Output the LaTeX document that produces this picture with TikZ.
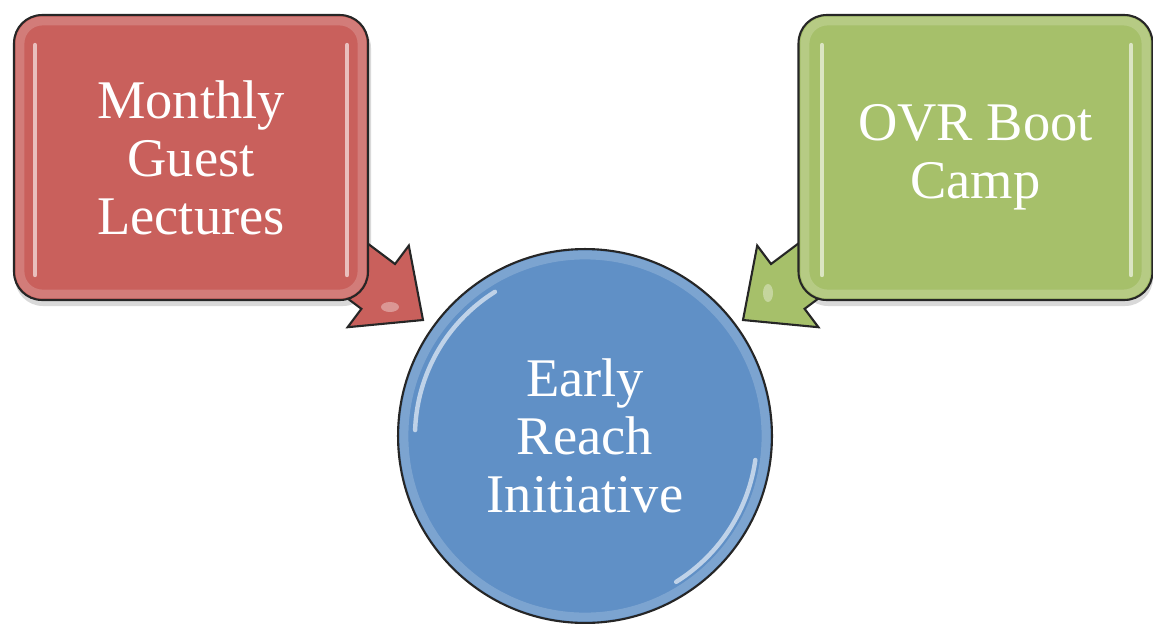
\documentclass[tikz,border=0pt]{standalone}
\usepackage{fontspec}
\setmainfont{Liberation Serif}
\definecolor{redbox}{RGB}{201,96,92}
\definecolor{greenbox}{RGB}{166,192,106}
\definecolor{bluecirc}{RGB}{96,144,198}
\begin{document}
\begin{tikzpicture}[x=0.02cm,y=-0.02cm,
  outline/.style={draw=black!85,line width=1.2pt},
  boxnode/.style={outline,rounded corners=0.56cm,minimum width=7.08cm,minimum height=5.7cm,
    text=white,align=center,font=\fontsize{31}{33}\selectfont},
  circnode/.style={outline,circle,minimum size=7.48cm,inner sep=0pt,
    text=white,align=center,font=\fontsize{31}{33}\selectfont},
  arrowshape/.style={outline,line join=miter},
  gloss/.style={white,opacity=0.6,line width=2.5pt,line cap=round},
  rim/.style={white,opacity=0.18,line width=5pt},
  shadowfill/.style={black,opacity=0.15}]
\useasboundingbox (0,0) rectangle (1153,623);

% shadows
\fill[shadowfill,rounded corners=0.56cm] (15,20) rectangle (371,306);
\fill[shadowfill,rounded corners=0.56cm] (800,20) rectangle (1153,306);

% block arrows (behind the boxes)
\draw[arrowshape,fill=redbox] (423,320) -- (347.6,327.2) -- (361.4,308.8) -- (278.2,246.4)
  -- (311.8,201.6) -- (395,264) -- (408.8,245.6) -- cycle;
\fill[white,opacity=0.35] (390,307) ellipse (9 and 5);
\draw[arrowshape,fill=greenbox] (743,320) -- (818.4,327.2) -- (804.6,308.8) -- (887.8,246.4)
  -- (854.2,201.6) -- (771,264) -- (757.2,245.6) -- cycle;
\fill[white,opacity=0.35] (768,293) ellipse (5 and 9);

% boxes
\node[boxnode,fill=redbox] (mgl) at (191,157.5) {Monthly\\Guest\\Lectures};
\node[boxnode,fill=greenbox] (ovr) at (975.5,157.5) {OVR Boot\\Camp};
\draw[rim,rounded corners=0.45cm] (20,21) rectangle (362,294);
\draw[rim,rounded corners=0.45cm] (805,21) rectangle (1146,294);
\draw[gloss] (35,45) -- (35,275);
\draw[gloss] (347,45) -- (347,275);
\draw[gloss] (822,45) -- (822,275);
\draw[gloss] (1131,45) -- (1131,275);

% circle
\node[circnode,fill=bluecirc] (eri) at (585,436) {Early\\Reach\\Initiative};
\draw[white,opacity=0.18,line width=5pt] (eri.center) circle (181);
\draw[gloss] plot[domain=122:178,samples=30,smooth] ({585+170*cos(\x)},{436-170*sin(\x)});
\draw[gloss] plot[domain=-8:-58,samples=30,smooth] ({585+172*cos(\x)},{436-172*sin(\x)});
\end{tikzpicture}
\end{document}
